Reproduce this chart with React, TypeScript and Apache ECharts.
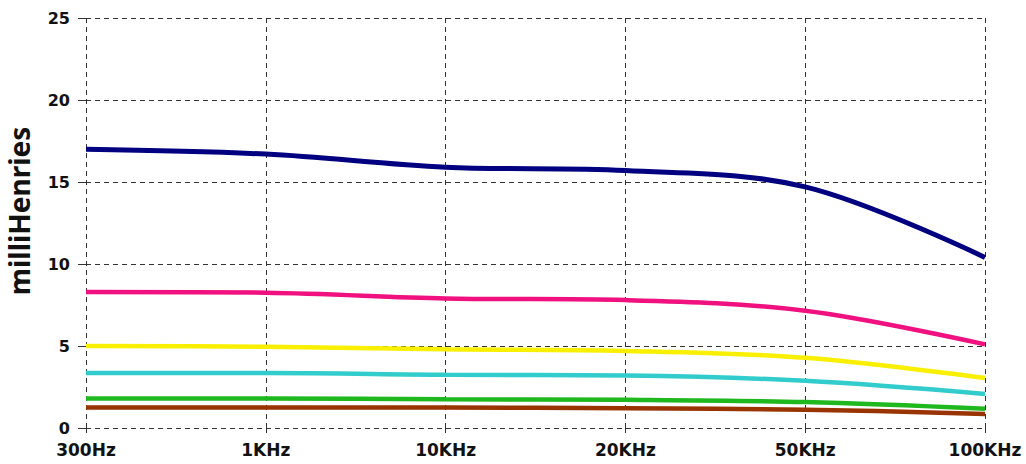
import React, { useEffect, useRef } from "react";
import * as echarts from "echarts";

const categories = ["300Hz", "1KHz", "10KHz", "20KHz", "50KHz", "100KHz"];
const navy = [17.0, 16.7, 15.9, 15.7, 14.7, 10.4];
const pink = [8.3, 8.25, 7.9, 7.8, 7.15, 5.1];
const yellow = [5.0, 4.95, 4.8, 4.7, 4.28, 3.05];
const cyan = [3.35, 3.35, 3.25, 3.2, 2.88, 2.08];
const green = [1.8, 1.8, 1.75, 1.72, 1.58, 1.17];
const brown = [1.25, 1.25, 1.25, 1.2, 1.12, 0.85];
const yTicks = { min: 0, max: 25, interval: 5 };

const seriesDefs = [
  { name: "navy", data: navy, color: "#000080", width: 5 },
  { name: "pink", data: pink, color: "#f0107f", width: 4.5 },
  { name: "yellow", data: yellow, color: "#f8f000", width: 4.5 },
  { name: "cyan", data: cyan, color: "#33cccc", width: 4.5 },
  { name: "green", data: green, color: "#1fb81f", width: 4.5 },
  { name: "brown", data: brown, color: "#993300", width: 4.5 },
];

export default function App() {
  const ref = useRef<HTMLDivElement>(null);
  useEffect(() => {
    const chart = echarts.init(ref.current!, null, { renderer: "svg" });
    const font = "'DejaVu Sans', sans-serif";
    chart.setOption({
      animation: false,
      grid: { left: 86, right: 41, top: 18, bottom: 36, outerBoundsMode: "none", containLabel: false },
      xAxis: {
        type: "category",
        data: categories,
        boundaryGap: false,
        axisLine: { show: false },
        axisTick: { show: true, length: 5, lineStyle: { color: "#333" } },
        axisLabel: { color: "#111", fontFamily: font, fontWeight: "bold", fontSize: 17, margin: 13 },
        splitLine: { show: true, lineStyle: { color: "#333", type: [5, 4], width: 1 } },
      },
      yAxis: {
        type: "value",
        min: yTicks.min,
        max: yTicks.max,
        interval: yTicks.interval,
        name: "milliHenries",
        nameLocation: "middle",
        nameGap: 53,
        nameTextStyle: {
          color: "#111",
          fontFamily: "'Noto Sans', sans-serif",
          fontWeight: "bold",
          fontSize: 28,
          padding: [0, 0, 0, 24],
        },
        axisLine: { show: false },
        axisTick: { show: true, length: 8, lineStyle: { color: "#333" } },
        axisLabel: { color: "#111", fontFamily: font, fontWeight: "bold", fontSize: 16, margin: 16 },
        splitLine: { show: true, lineStyle: { color: "#333", type: [5, 4], width: 1 } },
      },
      series: seriesDefs.map((s) => ({
        name: s.name,
        type: "line",
        data: s.data,
        smooth: 0.35,
        symbol: "none",
        lineStyle: { color: s.color, width: s.width },
      })),
    });
    return () => chart.dispose();
  }, []);
  return (
    <div
      ref={ref}
      style={{ position: "absolute", left: 0, top: 0, width: 1026, height: 464 }}
    />
  );
}
